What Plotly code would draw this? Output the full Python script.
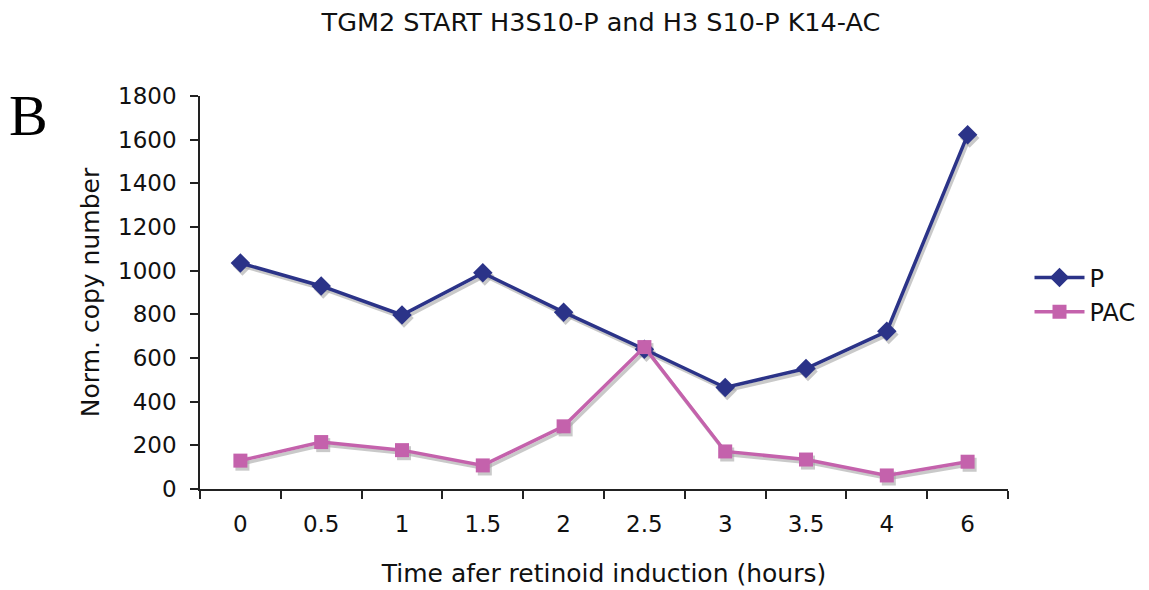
import plotly.graph_objects as go

times = ["0", "0.5", "1", "1.5", "2", "2.5", "3", "3.5", "4", "6"]
p_vals = [1035, 930, 797, 990, 810, 640, 465, 552, 722, 1622]
pac_vals = [130, 215, 178, 108, 287, 650, 172, 135, 62, 125]

P_COLOR = "#2B3388"
PAC_COLOR = "#C462AC"
SHADOW = "rgba(165,165,165,0.6)"
FONT = "DejaVu Sans"

fig = go.Figure()

# drop shadows drawn on the base (hidden, slightly shifted) axis pair, beneath the main traces
for vals, sym in [(p_vals, "diamond"), (pac_vals, "square")]:
    fig.add_trace(go.Scatter(
        x=times, y=vals, xaxis="x", yaxis="y", mode="lines+markers",
        line=dict(color=SHADOW, width=3.5),
        marker=dict(symbol=sym, size=15 if sym == "diamond" else 14, color=SHADOW),
        showlegend=False, hoverinfo="skip"))

fig.add_trace(go.Scatter(
    x=times, y=p_vals, name="P", mode="lines+markers", legendgroup="a",
    xaxis="x2", yaxis="y2",
    line=dict(color=P_COLOR, width=3.5),
    marker=dict(symbol="diamond", size=15, color=P_COLOR)))
fig.add_trace(go.Scatter(
    x=times, y=pac_vals, name="PAC", mode="lines+markers", legendgroup="b",
    xaxis="x2", yaxis="y2",
    line=dict(color=PAC_COLOR, width=3.5),
    marker=dict(symbol="square", size=14, color=PAC_COLOR)))

fig.update_layout(
    width=1149, height=590,
    margin=dict(l=200, r=141, t=96, b=101, autoexpand=False),
    paper_bgcolor="white", plot_bgcolor="white",
    font=dict(family=FONT, color="#111111"),
    title=dict(text="TGM2 START H3S10-P and H3 S10-P K14-AC", x=0.523, xanchor="center",
               y=0.962, yanchor="middle", font=dict(size=25.5, family=FONT, color="#111111")),
    xaxis=dict(type="category", range=[-0.5 - 0.025, 9.5 - 0.025], visible=False,
               showgrid=False, zeroline=False),
    yaxis=dict(range=[14, 1814], visible=False, showgrid=False, zeroline=False),
    xaxis2=dict(type="category", overlaying="x", side="bottom", range=[-0.5, 9.5],
                showline=True, linecolor="#222222",
                linewidth=1.5, ticks="outside", tickson="boundaries", ticklen=8,
                tickcolor="#222222", tickwidth=1.5, tickfont=dict(size=23),
                ticklabelstandoff=14, showgrid=False, zeroline=False,
                title=dict(text="Time afer retinoid induction (hours)", font=dict(size=25),
                           standoff=28)),
    yaxis2=dict(overlaying="y", side="left", range=[0, 1800], dtick=200, showline=True,
                linecolor="#222222",
                linewidth=1.5, ticks="outside", ticklen=8, tickcolor="#222222",
                tickwidth=1.5, tickfont=dict(size=23), ticklabelstandoff=9,
                showgrid=False, zeroline=False,
                title=dict(text="Norm. copy number", font=dict(size=25), standoff=11)),
    legend=dict(xref="container", yref="container", x=0.896, y=0.50,
                xanchor="left", yanchor="middle",
                font=dict(size=24), bgcolor="rgba(0,0,0,0)", tracegroupgap=0,
                itemwidth=50),
    showlegend=True,
)

fig.add_annotation(text="B", xref="paper", yref="paper", x=-0.239, y=0.95,
                   xanchor="left", yanchor="middle", showarrow=False,
                   font=dict(family="Liberation Serif", size=58, color="#000000"))

fig.write_html("out.html")
